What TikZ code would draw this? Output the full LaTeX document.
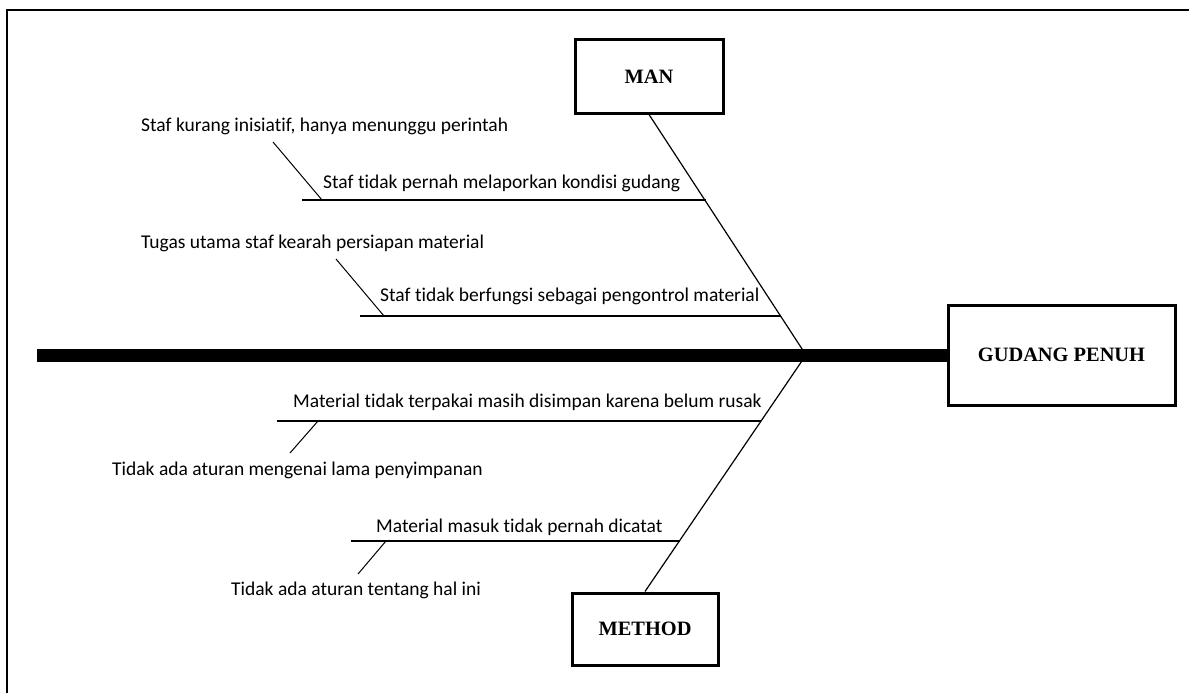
\documentclass[tikz,border=0pt]{standalone}
\usepackage{fontspec}
\setmainfont{Carlito}[Ligatures=NoCommon]
\newfontfamily\boxfont{Liberation Serif}
\usetikzlibrary{calc}

\begin{document}
\begin{tikzpicture}[x=1pt, y=-1pt,
  bigbox/.style={draw, line width=3pt, inner sep=0pt, font=\boxfont\bfseries\fontsize{20.4}{24}\selectfont},
  cause/.style={anchor=base west, inner sep=0pt, font=\fontsize{19.5}{23}\selectfont},
  bone/.style={line width=1.2pt},
  twig/.style={line width=1pt}]
\useasboundingbox (0,0) rectangle (1189,693);
% Frame
\draw[line width=2pt] (7,693) -- (7,10) -- (1189,10);

% Head and category boxes
\node[bigbox, minimum width=227, minimum height=100] (gudang) at (1061.5,355) {GUDANG PENUH};
\node[bigbox, minimum width=148, minimum height=73] (man) at (649,76.5) {MAN};
\node[bigbox, minimum width=146, minimum height=72] (method) at (645,629) {METHOD};

% Spine
\coordinate (tail) at (37,355);
\coordinate (joint) at (806,355);
\draw[line width=13pt] (tail) -- (gudang.west);

% Bones
\draw[bone] (man.south) -- (joint) -- (method.north);
\coordinate (m1) at ($(joint)!0.64!(man.south)$);
\coordinate (m2) at ($(joint)!0.161!(man.south)$);
\coordinate (t1) at ($(joint)!0.277!(method.north)$);
\coordinate (t2) at ($(joint)!0.782!(method.north)$);

% Man causes
\coordinate (m1l) at (302,200);
\coordinate (m2l) at (360,316);
\draw[bone] (m1l) -- (m1l -| m1);
\draw[bone] (m2l) -- (m2l -| m2);
\node[cause] (c1) at (141,131) {Staf kurang inisiatif, hanya menunggu perintah};
\node[cause] (c2) at (323,188) {Staf tidak pernah melaporkan kondisi gudang};
\node[cause] (c3) at (141,248) {Tugas utama staf kearah persiapan material};
\node[cause] (c4) at (380,301) {Staf tidak berfungsi sebagai pengontrol material};
\coordinate (s1) at (273,142);
\coordinate (s1e) at (322,200);
\coordinate (s2) at (336,259);
\coordinate (s2e) at (384,316);
\draw[twig] (s1) -- (s1e);
\draw[twig] (s2) -- (s2e);

% Method causes
\coordinate (t1l) at (277,421);
\coordinate (t2l) at (351,541);
\draw[bone] (t1l) -- (t1l -| t1);
\draw[bone] (t2l) -- (t2l -| t2);
\node[cause] (c5) at (293,407) {Material tidak terpakai masih disimpan karena belum rusak};
\node[cause] (c6) at (112,475) {Tidak ada aturan mengenai lama penyimpanan};
\node[cause] (c7) at (376,532) {Material masuk tidak pernah dicatat};
\node[cause] (c8) at (231,595) {Tidak ada aturan tentang hal ini};
\coordinate (s3) at (290,453);
\coordinate (s3e) at (318,421);
\coordinate (s4) at (358,574);
\coordinate (s4e) at (386,541);
\draw[twig] (s3) -- (s3e);
\draw[twig] (s4) -- (s4e);
\end{tikzpicture}
\end{document}
